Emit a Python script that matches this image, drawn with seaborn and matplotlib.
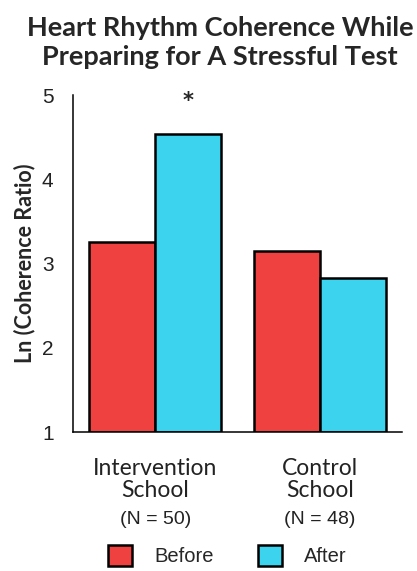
import matplotlib
matplotlib.use("Agg")
import matplotlib.pyplot as plt
import seaborn as sns
import pandas as pd
from matplotlib.patches import Patch
import matplotlib.transforms as mtransforms

schools = ["Intervention\nSchool", "Control\nSchool"]
n_labels = ["(N = 50)", "(N = 48)"]
phases = ["Before", "After"]
before_vals = [3.25, 3.15]
after_vals = [4.54, 2.83]
yticks = [1, 2, 3, 4, 5]
title = "Heart Rhythm Coherence While\nPreparing for A Stressful Test"
ylabel = "Ln (Coherence Ratio)"
colors = {"Before": "#F04141", "After": "#3CD3EF"}

df = pd.DataFrame({
    "school": schools * 2,
    "phase": ["Before"] * 2 + ["After"] * 2,
    "value": before_vals + after_vals,
})

sns.set_style("white")
fig = plt.figure(figsize=(4.17, 5.71), dpi=100)
ax = fig.add_axes([0.175, 0.2434, 0.789, 0.5902])

sns.barplot(data=df, x="school", y="value", hue="phase", hue_order=phases,
            palette=colors, order=schools, width=0.8, edgecolor="black",
            linewidth=1.8, ax=ax, legend=False, saturation=1)

# bars start from 1 (baseline of the axis)
for p in ax.patches:
    h = p.get_height()
    p.set_y(1)
    p.set_height(h - 1)

ax.set_ylim(1, 5)
ax.set_xlim(-0.5, 1.5)
ax.set_yticks(yticks)
ax.set_yticklabels([str(t) for t in yticks], fontsize=15, family="Liberation Sans", color="#222222")
ax.set_xticks([-0.5, 0.5, 1.5])
ax.set_xticklabels([])
ax.set_xticks([0, 1], minor=True)
ax.set_xticklabels(schools, minor=True, fontsize=16.5, family="Lato", color="#222222",
                   linespacing=1.05)
ax.tick_params(axis="x", which="minor", length=0, pad=19)
ax.tick_params(axis="x", which="major", direction="out", length=11, width=1, color="black")
ax.tick_params(axis="y", direction="out", length=9, width=1, color="black", pad=5)
ax.set_xlabel("")
ax.set_ylabel(ylabel, fontsize=15.5, fontweight="bold", family="Lato", labelpad=5)

for s in ["top", "right"]:
    ax.spines[s].set_visible(False)
for s in ["left", "bottom"]:
    ax.spines[s].set_color("black")
    ax.spines[s].set_linewidth(1.1)

trans = mtransforms.blended_transform_factory(ax.transData, ax.transAxes)
for i, lab in enumerate(n_labels):
    ax.text(i, -0.26, lab, transform=trans, ha="center", va="center",
            fontsize=14, family="Liberation Sans", color="#222222")

ax.text(0.2, 4.93, "*", ha="center", va="center", fontsize=15, fontweight="bold")

fig.suptitle(title, fontsize=19.5, fontweight="bold", family="Lato", y=0.972,
             linespacing=1.25, x=0.528)

handles = [Patch(facecolor=colors[p], edgecolor="black", linewidth=1.8) for p in phases]
fig.legend(handles, phases, loc="center", bbox_to_anchor=(0.545, 0.027), ncol=2,
           frameon=False, prop={"family": "Liberation Sans", "size": 14.5},
           handlelength=1.2, handleheight=1.2, columnspacing=2.2, handletextpad=1.1)

fig.savefig("out.png", dpi=100)
